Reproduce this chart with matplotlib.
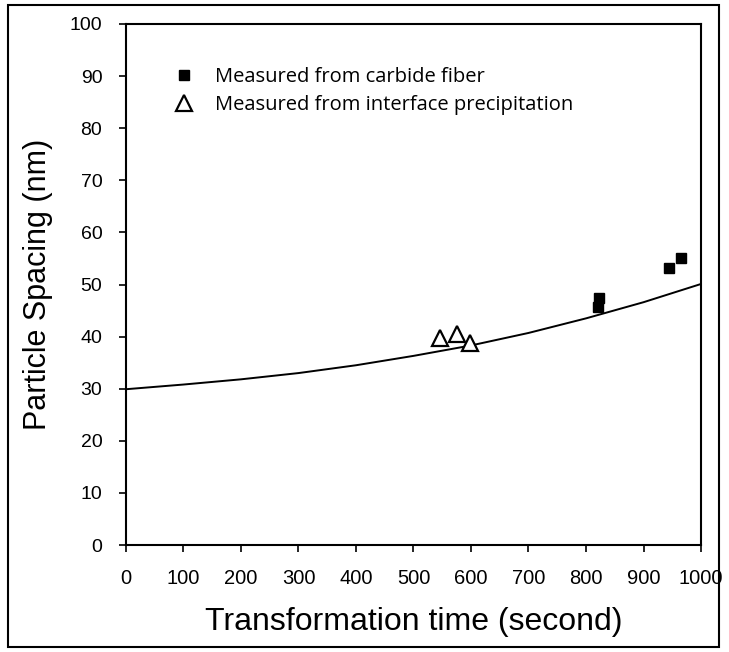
import matplotlib.pyplot as plt
from matplotlib.patches import Rectangle

# model curve
curve_t = [0, 100, 200, 300, 400, 500, 600, 700, 800, 900, 1000]
curve_s = [29.9, 30.8, 31.8, 33.0, 34.5, 36.3, 38.3, 40.7, 43.5, 46.6, 50.1]

# measured points
fiber_t = [820, 823, 945, 966]
fiber_s = [45.7, 47.4, 53.1, 55.0]
interface_t = [546, 575, 598]
interface_s = [39.7, 40.5, 38.8]

xticks = list(range(0, 1001, 100))
yticks = list(range(0, 101, 10))

plt.rcParams['font.family'] = ['Liberation Sans', 'DejaVu Sans']

fig = plt.figure(figsize=(7.29, 6.52), dpi=100)
ax = fig.add_axes([0.1728, 0.1641, 0.7888, 0.7991])

ax.plot(curve_t, curve_s, color="black", lw=1.4, zorder=2)
ax.plot(fiber_t, fiber_s, ls="none", marker="s", ms=7, color="black",
        label="Measured from carbide fiber", zorder=3)
ax.plot(interface_t, interface_s, ls="none", marker="^", ms=11, mfc="white",
        mec="black", mew=1.6, label="Measured from interface precipitation", zorder=3)

ax.set_xlim(0, 1000)
ax.set_ylim(0, 100)
ax.set_xticks(xticks)
ax.set_yticks(yticks)
ax.tick_params(direction="out", length=5, width=1.2, colors="black")
ax.tick_params(axis="x", pad=12, labelsize=14.5)
ax.tick_params(axis="y", pad=12, labelsize=14)
for s in ax.spines.values():
    s.set_linewidth(1.5)

ax.set_xlabel("Transformation time (second)", fontsize=23, labelpad=14)
ax.set_ylabel("Particle Spacing (nm)", fontsize=22, labelpad=12)

leg = ax.legend(loc="upper left", bbox_to_anchor=(0.049, 0.952), frameon=False,
                prop={"family": "Open Sans", "size": 14.5}, handletextpad=0.9,
                labelspacing=0.4, handlelength=1.2)

# frame round the whole picture
fig.patches.append(Rectangle((0.011, 0.008), 0.975, 0.985, transform=fig.transFigure,
                             fill=False, ec="black", lw=1.5))

fig.savefig("out.png", dpi=100)
